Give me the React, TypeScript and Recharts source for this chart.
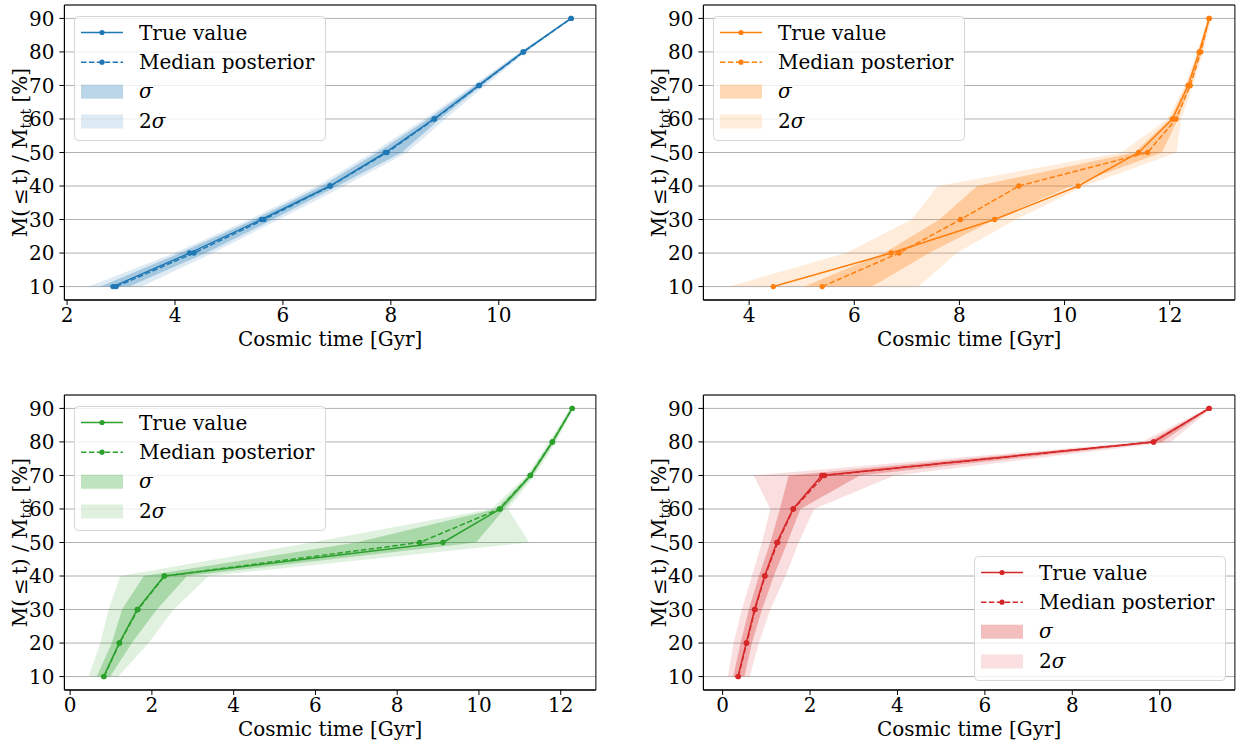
import {
  ComposedChart,
  Area,
  Line,
  XAxis,
  YAxis,
  CartesianGrid,
  ReferenceArea,
} from 'recharts'

// mass fraction levels shared by every panel
const levels = [10, 20, 30, 40, 50, 60, 70, 80, 90]
const yTicks = [10, 20, 30, 40, 50, 60, 70, 80, 90]

// blue galaxy
const blueTrue = [2.85, 4.27, 5.6, 6.87, 7.9, 8.8, 9.63, 10.45, 11.34]
const blueMedian = [2.91, 4.35, 5.65, 6.88, 7.93, 8.81, 9.64, 10.46, 11.34]
const blueSigmaLo = [2.62, 4.09, 5.47, 6.72, 7.75, 8.69, 9.57, 10.42, 11.33]
const blueSigmaHi = [3.15, 4.57, 5.81, 7.01, 8.2, 8.91, 9.68, 10.48, 11.35]
const blueTwoLo = [2.4, 3.99, 5.38, 6.63, 7.66, 8.62, 9.52, 10.39, 11.32]
const blueTwoHi = [3.38, 4.7, 5.92, 7.14, 8.3, 9.01, 9.75, 10.51, 11.36]

// orange galaxy
const orangeTrue = [4.46, 6.7, 8.67, 10.26, 11.41, 12.05, 12.35, 12.56, 12.75]
const orangeMedian = [5.39, 6.85, 8.02, 9.13, 11.58, 12.12, 12.39, 12.59, 12.75]
const orangeSigmaLo = [5.05, 6.57, 7.62, 8.34, 11.33, 12.01, 12.32, 12.55, 12.73]
const orangeSigmaHi = [6.34, 7.42, 8.67, 10.12, 11.85, 12.16, 12.4, 12.61, 12.77]
const orangeTwoLo = [3.61, 5.84, 7.09, 7.59, 11.08, 11.96, 12.29, 12.52, 12.72]
const orangeTwoHi = [7.22, 7.95, 9.07, 10.38, 12.13, 12.22, 12.44, 12.64, 12.79]

// green galaxy
const greenTrue = [0.82, 1.2, 1.64, 2.3, 9.12, 10.52, 11.26, 11.8, 12.28]
const greenMedian = [0.83, 1.21, 1.66, 2.31, 8.55, 10.5, 11.25, 11.79, 12.28]
const greenSigmaLo = [0.65, 1.02, 1.27, 1.8, 7.0, 10.42, 11.22, 11.75, 12.25]
const greenSigmaHi = [0.98, 1.51, 2.12, 2.86, 9.93, 10.62, 11.31, 11.84, 12.3]
const greenTwoLo = [0.45, 0.74, 0.94, 1.23, 5.9, 10.3, 11.17, 11.71, 12.22]
const greenTwoHi = [1.18, 1.92, 2.53, 3.39, 11.23, 10.71, 11.36, 11.88, 12.32]

// red galaxy
const redTrue = [0.35, 0.54, 0.73, 0.96, 1.24, 1.61, 2.27, 9.86, 11.13]
const redMedian = [0.36, 0.55, 0.74, 0.97, 1.26, 1.62, 2.33, 9.86, 11.13]
const redSigmaLo = [0.24, 0.41, 0.6, 0.83, 1.09, 1.31, 1.51, 9.73, 11.11]
const redSigmaHi = [0.5, 0.67, 0.9, 1.17, 1.48, 1.78, 3.14, 10.05, 11.16]
const redTwoLo = [0.12, 0.25, 0.44, 0.67, 0.9, 1.09, 0.71, 9.58, 11.08]
const redTwoHi = [0.62, 0.83, 1.09, 1.44, 1.74, 2.09, 3.93, 10.25, 11.18]

const FONT = 'DejaVu Serif'
const PLOT_W = 531.5
const PLOT_H = 295
const AXIS_W = 60
const AXIS_H = 50
const PAD_L = 4.4
const PAD_T = 5
const PAD_R = 4
const LEGEND_W = 251
const LEGEND_H = 124

interface PanelProps {
  plotLeft: number
  plotTop: number
  color: string
  truth: number[]
  median: number[]
  sigmaLo: number[]
  sigmaHi: number[]
  twoLo: number[]
  twoHi: number[]
  xDomain: [number, number]
  xTicks: number[]
  legendAt: 'upper-left' | 'lower-right'
}

function MassLabel({ viewBox }: any) {
  const cx = viewBox.x + 15.5
  const cy = viewBox.y + viewBox.height / 2
  return (
    <text
      x={cx}
      y={cy + 7}
      transform={`rotate(-90, ${cx}, ${cy})`}
      textAnchor="middle"
      fontFamily={FONT}
      fontSize={20}
      fill="#000"
    >
      <tspan>M(&#8201;≤&#8201;t) / M</tspan>
      <tspan fontSize={14} dy={4}>tot</tspan>
      <tspan dy={-4}> [%]</tspan>
    </text>
  )
}

function TimeLabel({ viewBox }: any) {
  return (
    <text
      x={viewBox.x + viewBox.width / 2}
      y={viewBox.y + 46.5}
      textAnchor="middle"
      fontFamily={FONT}
      fontSize={20}
      fill="#000"
    >
      Cosmic time [Gyr]
    </text>
  )
}

function LegendBox({ color, left, top }: { color: string; left: number; top: number }) {
  const rows = [16.5, 46.2, 75.7, 105.5]
  return (
    <svg
      width={LEGEND_W + 1}
      height={LEGEND_H + 1}
      style={{ position: 'absolute', left, top, overflow: 'visible' }}
    >
      <rect
        x={0.5}
        y={0.5}
        width={LEGEND_W}
        height={LEGEND_H}
        rx={4}
        fill="#fff"
        fillOpacity={0.8}
        stroke="#ccc"
        strokeOpacity={0.8}
      />
      <line x1={7} x2={49} y1={rows[0]} y2={rows[0]} stroke={color} strokeWidth={1.5} />
      <circle cx={28} cy={rows[0]} r={2.6} fill={color} />
      <line
        x1={7}
        x2={49}
        y1={rows[1]}
        y2={rows[1]}
        stroke={color}
        strokeWidth={1.5}
        strokeDasharray="5.5 2.4"
      />
      <circle cx={28} cy={rows[1]} r={2.6} fill={color} />
      <rect x={7} y={rows[2] - 7} width={42} height={14} fill={color} fillOpacity={0.3} />
      <rect x={7} y={rows[3] - 7} width={42} height={14} fill={color} fillOpacity={0.15} />
      <g fontFamily={FONT} fontSize={20} fill="#000">
        <text x={65} y={rows[0] + 7}>True value</text>
        <text x={65} y={rows[1] + 7}>Median posterior</text>
        <text x={65} y={rows[2] + 6} fontStyle="italic">σ</text>
        <text x={65} y={rows[3] + 6}>
          2<tspan fontStyle="italic">σ</tspan>
        </text>
      </g>
    </svg>
  )
}

function Panel(props: PanelProps) {
  const { plotLeft, plotTop, color, xDomain, xTicks, legendAt } = props
  const data = levels.map((m, i) => ({
    m,
    truth: props.truth[i],
    median: props.median[i],
    sigma: [props.sigmaLo[i], props.sigmaHi[i]],
    twoSigma: [props.twoLo[i], props.twoHi[i]],
  }))

  const chartLeft = plotLeft - PAD_L - AXIS_W
  const chartTop = plotTop - PAD_T
  const width = PAD_L + AXIS_W + PLOT_W + PAD_R
  const height = PAD_T + PLOT_H + AXIS_H

  const legendLeft =
    legendAt === 'upper-left' ? plotLeft + 10 : plotLeft + PLOT_W - 10 - LEGEND_W
  const legendTop =
    legendAt === 'upper-left' ? plotTop + 10.5 : plotTop + PLOT_H - 10 - LEGEND_H

  const tickStyle = { fill: '#000', fontSize: 20, fontFamily: FONT }

  return (
    <>
      <div style={{ position: 'absolute', left: chartLeft, top: chartTop }}>
        <ComposedChart
          width={width}
          height={height}
          data={data}
          layout="vertical"
          margin={{ top: PAD_T, right: PAD_R, bottom: 0, left: PAD_L }}
        >
          <XAxis
            type="number"
            dataKey="truth"
            domain={xDomain}
            ticks={xTicks}
            allowDataOverflow
            height={AXIS_H}
            tick={tickStyle}
            tickSize={5}
            tickMargin={3}
            stroke="#000"
            label={{ content: <TimeLabel /> }}
          />
          <YAxis
            type="number"
            dataKey="m"
            domain={[6, 94]}
            ticks={yTicks}
            allowDataOverflow
            reversed
            width={AXIS_W}
            tick={tickStyle}
            tickSize={5}
            tickMargin={5}
            stroke="#000"
            label={{ content: <MassLabel /> }}
          />
          <Area
            type="linear"
            dataKey="twoSigma"
            stroke="none"
            fill={color}
            fillOpacity={0.15}
            isAnimationActive={false}
            activeDot={false}
          />
          <Area
            type="linear"
            dataKey="sigma"
            stroke="none"
            fill={color}
            fillOpacity={0.3}
            isAnimationActive={false}
            activeDot={false}
          />
          <CartesianGrid vertical={false} stroke="#b0b0b0" strokeWidth={1} />
          <Line
            type="linear"
            dataKey="truth"
            stroke={color}
            strokeWidth={1.5}
            dot={{ r: 2.7, fill: color, stroke: 'none' }}
            activeDot={false}
            isAnimationActive={false}
          />
          <Line
            type="linear"
            dataKey="median"
            stroke={color}
            strokeWidth={1.5}
            strokeDasharray="5.5 2.4"
            dot={{ r: 2.7, fill: color, stroke: 'none' }}
            activeDot={false}
            isAnimationActive={false}
          />
          <ReferenceArea
            x1={xDomain[0]}
            x2={xDomain[1]}
            y1={6}
            y2={94}
            fill="none"
            stroke="#000"
            strokeWidth={1}
            ifOverflow="visible"
          />
        </ComposedChart>
      </div>
      <LegendBox color={color} left={legendLeft} top={legendTop} />
    </>
  )
}

export default function App() {
  return (
    <div
      style={{
        position: 'absolute',
        left: 0,
        top: 0,
        width: 1239,
        height: 742,
        background: '#fff',
        overflow: 'hidden',
        fontFamily: FONT,
      }}
    >
      <Panel
        plotLeft={64.4}
        plotTop={5}
        color="#1f77b4"
        truth={blueTrue}
        median={blueMedian}
        sigmaLo={blueSigmaLo}
        sigmaHi={blueSigmaHi}
        twoLo={blueTwoLo}
        twoHi={blueTwoHi}
        xDomain={[1.95, 11.8]}
        xTicks={[2, 4, 6, 8, 10]}
        legendAt="upper-left"
      />
      <Panel
        plotLeft={703.3}
        plotTop={5}
        color="#ff7f0e"
        truth={orangeTrue}
        median={orangeMedian}
        sigmaLo={orangeSigmaLo}
        sigmaHi={orangeSigmaHi}
        twoLo={orangeTwoLo}
        twoHi={orangeTwoHi}
        xDomain={[3.13, 13.24]}
        xTicks={[4, 6, 8, 10, 12]}
        legendAt="upper-left"
      />
      <Panel
        plotLeft={64.4}
        plotTop={395}
        color="#2ca02c"
        truth={greenTrue}
        median={greenMedian}
        sigmaLo={greenSigmaLo}
        sigmaHi={greenSigmaHi}
        twoLo={greenTwoLo}
        twoHi={greenTwoHi}
        xDomain={[-0.14, 12.86]}
        xTicks={[0, 2, 4, 6, 8, 10, 12]}
        legendAt="upper-left"
      />
      <Panel
        plotLeft={703.3}
        plotTop={395}
        color="#d62728"
        truth={redTrue}
        median={redMedian}
        sigmaLo={redSigmaLo}
        sigmaHi={redSigmaHi}
        twoLo={redTwoLo}
        twoHi={redTwoHi}
        xDomain={[-0.44, 11.72]}
        xTicks={[0, 2, 4, 6, 8, 10]}
        legendAt="lower-right"
      />
    </div>
  )
}
